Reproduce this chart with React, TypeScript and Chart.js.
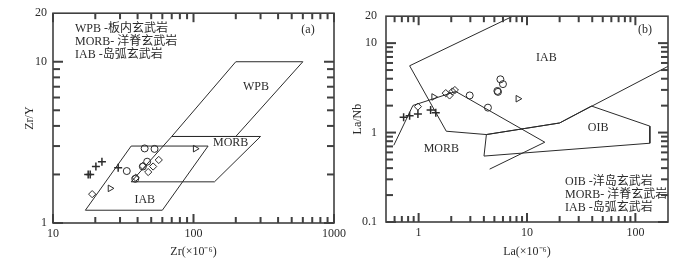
import React, { useEffect, useRef } from "react";
import { Chart, registerables } from "chart.js";

Chart.register(...registerables);

// ---------------- Panel (a): Zr vs Zr/Y ----------------
const A_X_LABELS = [10, 100, 1000];
const A_X_MAJOR = [10, 100, 1000];
const A_X_MINOR = [20, 30, 40, 50, 60, 70, 80, 90, 200, 300, 400, 500, 600, 700, 800, 900];
const A_Y_LABELS = [1, 10, 20];
const A_Y_MAJOR = [1, 10];
const A_Y_MINOR = [2, 3, 4, 5, 6, 7, 8, 9];

const A_WPB_X = [70, 200, 600, 200, 70];
const A_WPB_Y = [3.44, 3.44, 10, 10, 3.44];
const A_MORB_X = [36, 141, 300, 70, 36];
const A_MORB_Y = [1.8, 1.8, 3.44, 3.44, 1.8];
const A_IAB_X = [17, 60, 127, 36, 17];
const A_IAB_Y = [1.2, 1.2, 3.0, 3.0, 1.2];

const A_CROSS_X = [17.8, 18.4, 20.2, 22.3, 29.1];
const A_CROSS_Y = [2.0, 2.0, 2.24, 2.4, 2.2];
const A_CIRCLE_X = [33.5, 44.9, 52.8, 46.8, 43.6, 38.5];
const A_CIRCLE_Y = [2.1, 2.9, 2.88, 2.4, 2.24, 1.88];
const A_DIAMOND_X = [19, 38.8, 43.6, 47.6, 51.6, 56.6];
const A_DIAMOND_Y = [1.51, 1.91, 2.26, 2.07, 2.24, 2.46];
const A_TRI_X = [25.5, 103];
const A_TRI_Y = [1.64, 2.89];

const A_REGION_TEXT = ["WPB", "MORB", "IAB"];
const A_REGION_X = [278, 184, 45];
const A_REGION_Y = [7.0, 3.14, 1.39];
const A_LEGEND = ["WPB -板内玄武岩", "MORB- 洋脊玄武岩", "IAB -岛弧玄武岩"];

// ---------------- Panel (b): La vs La/Nb ----------------
const B_X_LABELS = [1, 10, 100];
const B_X_MAJOR = [1, 10, 100];
const B_X_MINOR = [0.6, 0.7, 0.8, 0.9, 2, 3, 4, 5, 6, 7, 8, 9, 20, 30, 40, 50, 60, 70, 80, 90];
const B_Y_LABELS = [0.1, 1, 10, 20];
const B_Y_MAJOR = [0.1, 1, 10];
const B_Y_MINOR = [0.2, 0.3, 0.4, 0.5, 0.6, 0.7, 0.8, 0.9, 2, 3, 4, 5, 6, 7, 8, 9];

const B_IAB_X = [7.4, 0.826, 1.8, 4.22, 20, 200];
const B_IAB_Y = [20, 5.58, 1.035, 0.95, 1.28, 5.5];
const B_OIB_X = [4.22, 20, 39.3, 136, 136, 4.01, 4.22];
const B_OIB_Y = [0.95, 1.28, 1.98, 1.18, 0.76, 0.546, 0.95];
const B_MORB_X = [0.59, 0.886, 2.2, 14.6, 4.52];
const B_MORB_Y = [0.72, 2.01, 2.88, 0.78, 0.39];

const B_DIAMOND_X = [0.985, 1.78, 1.93, 2.05, 2.16];
const B_DIAMOND_Y = [1.95, 2.76, 2.6, 2.88, 2.99];
const B_TRI_X = [1.38, 8.26];
const B_TRI_Y = [2.5, 2.39];
const B_CIRCLE_X = [2.96, 4.36, 5.33, 5.4, 5.68, 6.0];
const B_CIRCLE_Y = [2.6, 1.9, 2.92, 2.85, 3.94, 3.48];
const B_CROSS_X = [0.727, 0.826, 0.985, 1.29, 1.44];
const B_CROSS_Y = [1.48, 1.54, 1.61, 1.79, 1.67];

const B_REGION_TEXT = ["IAB", "OIB", "MORB"];
const B_REGION_X = [15.1, 45.3, 1.62];
const B_REGION_Y = [6.9, 1.13, 0.66];
const B_LEGEND = ["OIB -洋岛玄武岩", "MORB- 洋脊玄武岩", "IAB -岛弧玄武岩"];

// ---------------- styling ----------------
const FONT = "'Liberation Serif', 'Times New Roman', 'Noto Sans CJK SC', serif";
const INK = "#2b2b2b";
const AXIS = "#404040";

const pts = (xs: number[], ys: number[]) => xs.map((x, i) => ({ x, y: ys[i] }));
const fmt = (v: number) => (v < 1 ? String(v) : String(Math.round(v)));

function drawFrame(chart: any, P: any) {
  const ctx = chart.ctx;
  const a = chart.chartArea;
  const sx = chart.scales.x;
  const sy = chart.scales.y;
  ctx.save();
  ctx.fillStyle = AXIS;
  const h = (vals: number[], len: number) => {
    for (let i = 0; i < vals.length; i++) {
      const px = sx.getPixelForValue(vals[i]);
      ctx.fillRect(px - 1, a.bottom - len, 2, len);
      ctx.fillRect(px - 1, a.top, 2, len);
    }
  };
  const w = (vals: number[], len: number) => {
    for (let i = 0; i < vals.length; i++) {
      const py = sy.getPixelForValue(vals[i]);
      ctx.fillRect(a.left, py - 1, len, 2);
      ctx.fillRect(a.right - len, py - 1, len, 2);
    }
  };
  h(P.xMajor, 9);
  h(P.xMinor, 6);
  w(P.yMajor, 10);
  w(P.yMinor, 7);
  ctx.strokeStyle = AXIS;
  ctx.lineWidth = 1.6;
  ctx.strokeRect(a.left, a.top, a.right - a.left, a.bottom - a.top);
  ctx.restore();
}

function drawTexts(chart: any, P: any) {
  const { ctx, chartArea: a, scales } = chart;
  ctx.save();
  ctx.fillStyle = INK;
  ctx.font = `12px ${FONT}`;
  ctx.textAlign = "center";
  ctx.textBaseline = "middle";
  P.regionText.forEach((t: string, i: number) => {
    ctx.fillText(t, scales.x.getPixelForValue(P.regionX[i]), scales.y.getPixelForValue(P.regionY[i]));
  });
  ctx.fillText(P.tag, a.right + P.tagDx, a.top + P.tagDy);
  ctx.textAlign = "left";
  P.legend.forEach((t: string, i: number) => {
    const x = P.legendFromRight ? a.right + P.legendDx : a.left + P.legendDx;
    const y = P.legendFromBottom ? a.bottom + P.legendDy + i * P.legendStep : a.top + P.legendDy + i * P.legendStep;
    ctx.fillText(t, x, y);
  });
  ctx.restore();
}

function buildChart(canvas: HTMLCanvasElement, P: any) {
  const line = (xs: number[], ys: number[]) => ({
    data: pts(xs, ys),
    showLine: true,
    borderColor: INK,
    borderWidth: 1,
    pointRadius: 0,
    fill: false,
    tension: 0,
  });
  const mark = (xs: number[], ys: number[], style: string, r: number, rot = 0, bw = 1) => ({
    data: pts(xs, ys),
    showLine: false,
    pointStyle: style,
    pointRadius: r,
    pointRotation: rot,
    pointBorderColor: INK,
    borderColor: INK,
    pointBackgroundColor: "rgba(0,0,0,0)",
    backgroundColor: "rgba(0,0,0,0)",
    pointBorderWidth: bw,
    borderWidth: bw,
  });
  const datasets = [
    ...P.lines.map((l: any) => line(l[0], l[1])),
    mark(P.circle[0], P.circle[1], "circle", 3.5),
    mark(P.diamond[0], P.diamond[1], "rectRot", 3.6),
    mark(P.tri[0], P.tri[1], "triangle", 3.8, 90),
    mark(P.cross[0], P.cross[1], "cross", 4, 0, 1.5),
  ];
  const tickFont = { family: FONT, size: 12 };
  return new Chart(canvas, {
    type: "scatter",
    data: { datasets } as any,
    options: {
      animation: false,
      responsive: false,
      devicePixelRatio: 1,
      layout: { padding: P.padding },
      plugins: { legend: { display: false }, tooltip: { enabled: false } },
      scales: {
        x: {
          type: "logarithmic",
          min: P.xMin,
          max: P.xMax,
          grid: { display: false, drawTicks: false },
          border: { display: false },
          afterBuildTicks: (ax: any) => {
            ax.ticks = P.xLabels.map((v: number) => ({ value: v }));
          },
          afterFit: (ax: any) => {
            ax.height = P.xAxisHeight;
          },
          ticks: {
            autoSkip: false,
            maxRotation: 0,
            minRotation: 0,
            padding: 4,
            color: INK,
            font: tickFont,
            callback: (v: any) => fmt(Number(v)),
          },
          title: { display: true, text: P.xTitle, color: INK, font: tickFont, padding: { top: 0, bottom: 0 } },
        },
        y: {
          type: "logarithmic",
          min: P.yMin,
          max: P.yMax,
          grid: { display: false, drawTicks: false },
          border: { display: false },
          afterBuildTicks: (ax: any) => {
            ax.ticks = P.yLabels.map((v: number) => ({ value: v }));
          },
          afterFit: (ax: any) => {
            ax.width = P.yAxisWidth;
          },
          ticks: {
            autoSkip: false,
            padding: P.yTickPad,
            color: INK,
            font: tickFont,
            callback: (v: any) => fmt(Number(v)),
          },
          title: { display: true, text: P.yTitle, color: INK, font: tickFont, padding: { top: P.yTitlePad, bottom: 0 } },
        },
      },
    } as any,
    plugins: [
      {
        id: "overlay",
        afterDatasetsDraw(chart: any) {
          drawTexts(chart, P);
        },
        afterDraw(chart: any) {
          drawFrame(chart, P);
        },
      },
    ] as any,
  });
}

const PANEL_A = {
  xMin: 10, xMax: 1000, yMin: 1, yMax: 20,
  xLabels: A_X_LABELS, yLabels: A_Y_LABELS,
  xMajor: A_X_MAJOR, xMinor: A_X_MINOR, yMajor: A_Y_MAJOR, yMinor: A_Y_MINOR,
  lines: [[A_WPB_X, A_WPB_Y], [A_MORB_X, A_MORB_Y], [A_IAB_X, A_IAB_Y]],
  circle: [A_CIRCLE_X, A_CIRCLE_Y],
  diamond: [A_DIAMOND_X, A_DIAMOND_Y],
  tri: [A_TRI_X, A_TRI_Y],
  cross: [A_CROSS_X, A_CROSS_Y],
  regionText: A_REGION_TEXT, regionX: A_REGION_X, regionY: A_REGION_Y,
  tag: "(a)", tagDx: -26, tagDy: 17,
  legend: A_LEGEND, legendFromRight: false, legendFromBottom: false, legendDx: 22, legendDy: 16, legendStep: 13,
  padding: { left: 0, right: 13, top: 6, bottom: 0 },
  yAxisWidth: 53, xAxisHeight: 36, yTickPad: 6, yTitlePad: 23,
  xTitle: "Zr(×10⁻⁶)", yTitle: "Zr/Y",
};

const PANEL_B = {
  xMin: 0.5, xMax: 200, yMin: 0.1, yMax: 20,
  xLabels: B_X_LABELS, yLabels: B_Y_LABELS,
  xMajor: B_X_MAJOR, xMinor: B_X_MINOR, yMajor: B_Y_MAJOR, yMinor: B_Y_MINOR,
  lines: [[B_IAB_X, B_IAB_Y], [B_OIB_X, B_OIB_Y], [B_MORB_X, B_MORB_Y]],
  circle: [B_CIRCLE_X, B_CIRCLE_Y],
  diamond: [B_DIAMOND_X, B_DIAMOND_Y],
  tri: [B_TRI_X, B_TRI_Y],
  cross: [B_CROSS_X, B_CROSS_Y],
  regionText: B_REGION_TEXT, regionX: B_REGION_X, regionY: B_REGION_Y,
  tag: "(b)", tagDx: -23, tagDy: 14,
  legend: B_LEGEND, legendFromRight: true, legendFromBottom: true, legendDx: -103, legendDy: -40, legendStep: 13,
  padding: { left: 0, right: 32, top: 9, bottom: 0 },
  yAxisWidth: 36, xAxisHeight: 37, yTickPad: 9, yTitlePad: 1,
  xTitle: "La(×10⁻⁶)", yTitle: "La/Nb",
};

function Panel({ cfg, left }: { cfg: any; left: number }) {
  const ref = useRef<HTMLCanvasElement | null>(null);
  useEffect(() => {
    if (!ref.current) return;
    const chart = buildChart(ref.current, cfg);
    return () => chart.destroy();
  }, [cfg]);
  return (
    <canvas
      ref={ref}
      width={350}
      height={259}
      style={{ position: "absolute", left, top: 0, width: 350, height: 259 }}
    />
  );
}

export default function App() {
  return (
    <div style={{ position: "fixed", left: 0, top: 0, width: 700, height: 259, background: "#fff" }}>
      <Panel cfg={PANEL_A} left={0} />
      <Panel cfg={PANEL_B} left={350} />
    </div>
  );
}
